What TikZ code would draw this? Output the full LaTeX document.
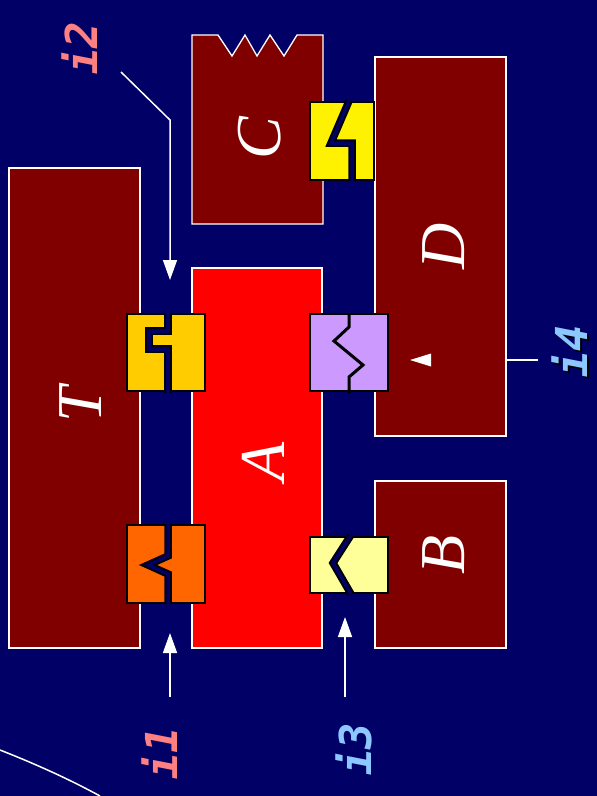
\documentclass[tikz,border=0pt]{standalone}
\usepackage{fontspec}
\setmainfont{Liberation Serif}
\newfontfamily\tagfont{DejaVu Sans Mono}
\usetikzlibrary{positioning,arrows.meta,calc}

\definecolor{bgnavy}{RGB}{0,0,102}
\definecolor{maroon}{RGB}{128,0,0}
\definecolor{gold}{RGB}{255,204,0}
\definecolor{tangerine}{RGB}{255,102,0}
\definecolor{lilac}{RGB}{204,153,255}
\definecolor{paleyellow}{RGB}{255,255,153}
\definecolor{pinkish}{RGB}{255,128,128}
\definecolor{skyish}{RGB}{140,200,255}

\begin{document}
\begin{tikzpicture}[x=1pt, y=-1pt,
  part/.style={draw=white, line width=1.3pt, fill=maroon, inner sep=0pt},
  plug/.style={draw=black, line width=2pt, inner sep=0pt},
  letter/.style={text=white, rotate=90, inner sep=0pt,
                 font=\fontsize{64}{68}\selectfont\itshape},
  tag/.style={rotate=90, inner sep=0pt,
              font=\fontsize{44}{48}\selectfont\tagfont\bfseries\itshape},
  notch/.style={bgnavy, line width=3.5pt, preaction={draw=black, line width=7.5pt}},
  wire/.style={white, line width=1.5pt},
  arr/.style={wire, -{Triangle[length=20pt, width=14pt]}}
]
\useasboundingbox (0,0) rectangle (597,796);
\fill[bgnavy] (0,0) rectangle (597,796);
\clip (0,0) rectangle (597,796);

% blocks
\node[part, minimum width=131pt, minimum height=480pt] (T) at (74.5,408) {};
\node[part, fill=red, minimum width=130pt, minimum height=380pt] (A) at (257,458) {};
\node[part, minimum width=131pt, minimum height=379pt] (D) at (440.5,246.5) {};
\node[part, minimum width=131pt, minimum height=167pt] (B) at (440.5,564.5) {};
\draw[part] (192,224) -- (192,35) -- (218,35) -- (232,56) -- (245,35) -- (257,56)
  -- (270,35) -- (284,56) -- (297,35) -- (323,35) -- (323,224) -- cycle;
\coordinate (C) at (257,138);

\foreach \b/\dx/\dy in {T/6/-3, A/6/4, D/3/0, B/3/-10, C/3/0}
  \node[letter] at ($(\b)+(\dx,\dy)$) {\b};

% joints
\node[plug, fill=gold, minimum width=78pt, minimum height=77pt] (ta1) at (166,352.5) {};
\node[plug, fill=tangerine, minimum width=78pt, minimum height=78pt] (ta2) at (166,564) {};
\node[plug, fill=lilac, minimum width=78pt, minimum height=77pt] (ad) at (349,352.5) {};
\node[plug, fill=paleyellow, minimum width=78pt, minimum height=56pt] (ab) at (349,564.5) {};
\node[plug, fill=yellow, minimum width=64pt, minimum height=78pt] (cd) at (342,141) {};

\draw[notch] (168,313) -- (168,331) -- (149,331) -- (149,349) -- (168,349) -- (168,393);
\draw[notch] (168,524) -- (168,556) -- (148,565) -- (168,574) -- (168,604);
\draw[notch] (351,535) -- (333,563) -- (351,594);
\draw[notch] (349,101) -- (331,143) -- (352,143) -- (352,181);
\draw[black, line width=3pt] (349,313) -- (349,327) -- (334,341) -- (363,365)
  -- (349,377) -- (349,393);

% interfaces
\node[tag, text=pinkish] (i1) at (160,753) {i1};
\node[tag, text=pinkish] (i2) at (80,48) {i2};
\node[tag, text=skyish] (i3) at (354,749) {i3};
\node[tag, text=black] at (572,353) {i4};
\node[tag, text=skyish] (i4) at (570,351) {i4};

\coordinate (i1s) at (170,697);
\coordinate (i1e) at (170,633);
\coordinate (i2s) at (121,72);
\coordinate (i2k) at (170,120);
\coordinate (i2e) at (170,280);
\coordinate (i3s) at (345,697);
\coordinate (i3e) at (345,617);
\coordinate (i4s) at (538,360);

\draw[arr] (i1s) -- (i1e);
\draw[arr] (i2s) -- (i2k) -- (i2e);
\draw[arr] (i3s) -- (i3e);
\draw[wire] (i4s) -- (D.east |- i4s);
\fill[white] (410,360) -- (431,353.5) -- (431,366.5) -- cycle;

\draw[wire] (0,750) .. controls (33,763) and (67,778) .. (100,796);
\end{tikzpicture}
\end{document}
